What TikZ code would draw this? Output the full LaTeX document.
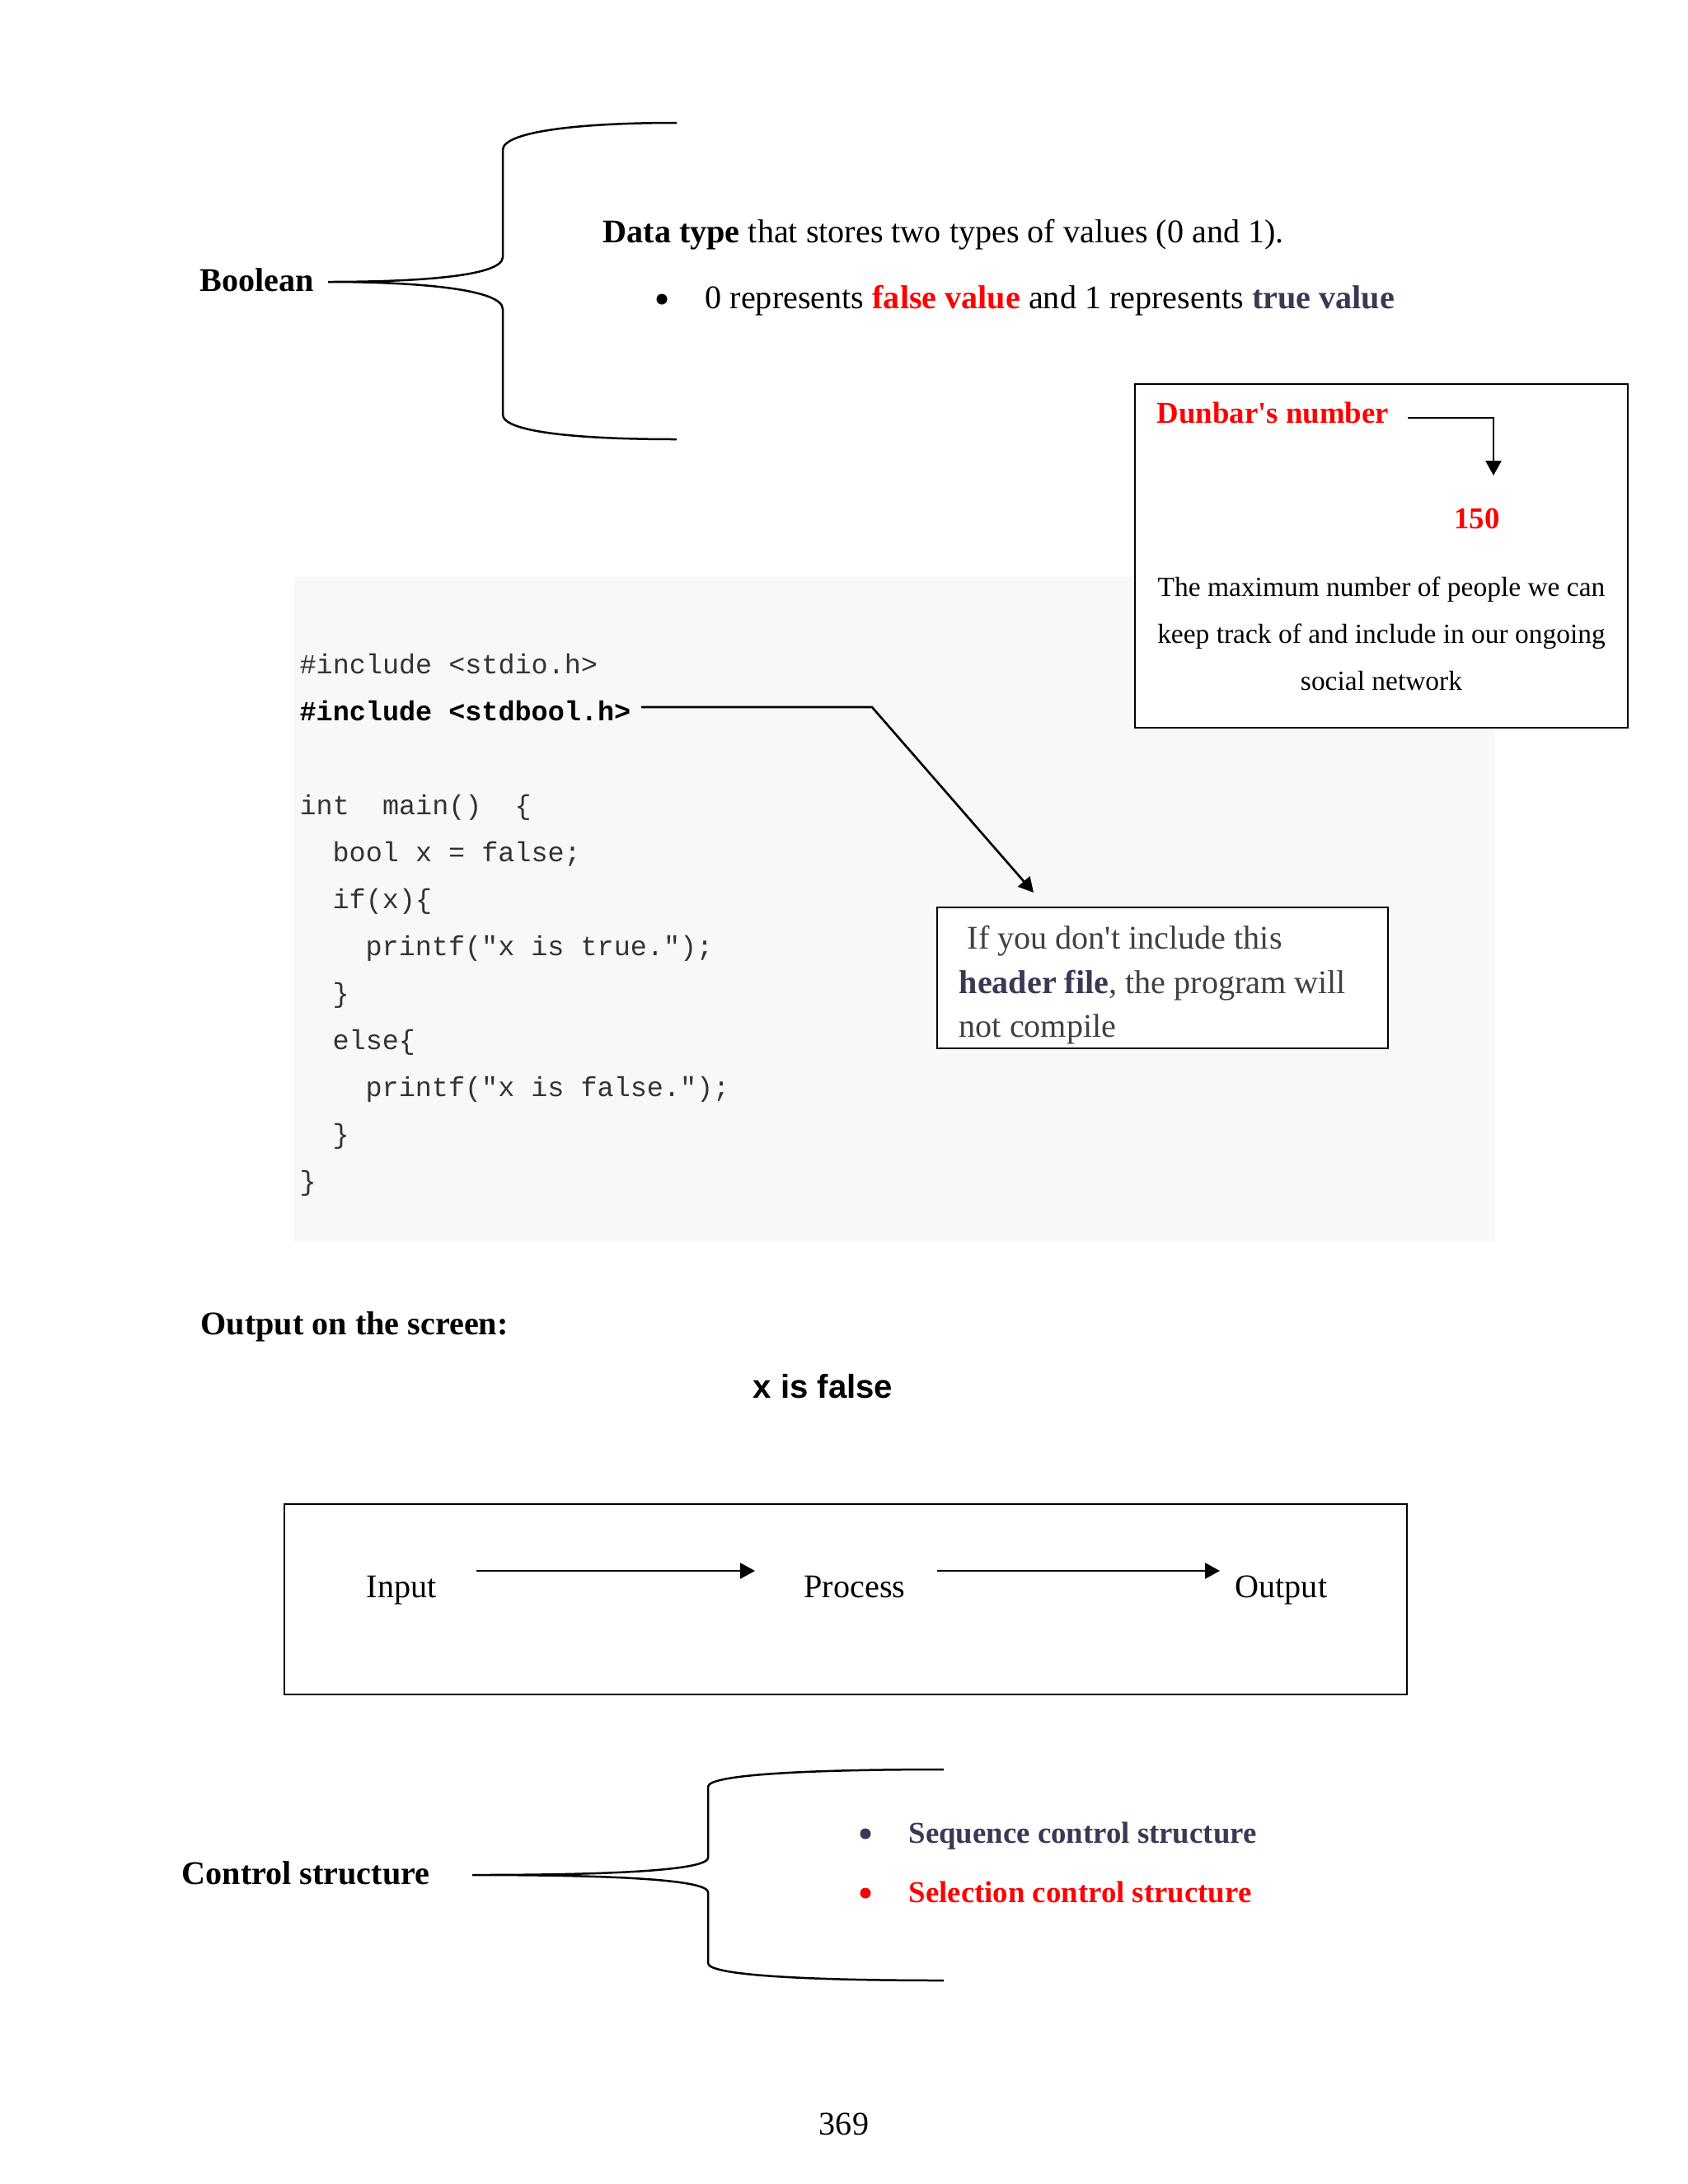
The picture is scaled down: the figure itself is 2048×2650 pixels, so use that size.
\documentclass[tikz,border=0pt]{standalone}
\usepackage{fontspec}
\setmainfont{Liberation Serif}
\setsansfont{Liberation Sans}
\setmonofont{Liberation Mono}
\usetikzlibrary{arrows.meta}

\definecolor{slate}{RGB}{59,56,86}
\definecolor{redtext}{RGB}{255,0,0}
\definecolor{codebg}{RGB}{248,248,248}
\definecolor{codetext}{RGB}{51,51,51}
\definecolor{notegray}{RGB}{64,64,72}

\tikzset{
  txt/.style={inner sep=0pt, anchor=base west, font=\fontsize{12bp}{14bp}\selectfont},
  small/.style={txt, font=\fontsize{10bp}{12bp}\selectfont},
  code/.style={inner sep=0pt, anchor=base west, text=codetext, font=\fontsize{10bp}{12bp}\ttfamily},
  curlyline/.style={line width=0.75pt},
  framebox/.style={draw, line width=0.8pt, fill=white},
  flowarrow/.style={line width=0.8pt, -{Triangle[length=5.4pt,width=5.7pt]}},
  dot/.style={circle, fill, inner sep=0pt, minimum size=3.9pt},
}

\begin{document}
\begin{tikzpicture}[x=0.3pt, y=-0.3pt]
  \fill[white] (0,0) rectangle (2048,2650);
  \useasboundingbox (0,0) rectangle (2048,2650);

  % Boolean
  \node[txt, font=\fontsize{12bp}{14bp}\bfseries] (boolean) at (242,353) {Boolean};
  \coordinate (boolTip) at (398,342);
  \draw[curlyline] (821,149) .. controls (700,149) and (610,160) .. (610,182) -- (610,312)
    .. controls (610,336) and (500,342) .. (boolTip)
    .. controls (500,342) and (610,350) .. (610,375) -- (610,503)
    .. controls (610,524) and (700,533) .. (821,533);
  \node[txt] (datatype) at (731,294) {\textbf{Data type} that stores two types of values (0 and 1).};
  \node[dot] (boolDot) at (803,363) {};
  \node[txt] (values) at (855,374) {0 represents \textcolor{redtext}{\textbf{false value}} and 1 represents \textcolor{slate}{\textbf{true value}}};

  % code listing
  \fill[codebg] (357,700) rectangle (1814,1507);
  \node[code] (incStdio) at (363,817) {\#include <stdio.h>};
  \node[code, font=\fontsize{10bp}{12bp}\ttfamily\bfseries, text=black] (incBool) at (363,874) {\#include <stdbool.h>};
  \node[code] (mainLine) at (363,988) {int~~main()~~\{};
  \node[code] (boolLine) at (403,1045) {bool x = false;};
  \node[code] (ifLine) at (403,1102) {if(x)\{};
  \node[code] (printTrue) at (443,1159) {printf("x is true.");};
  \node[code] (closeIf) at (403,1216) {\}};
  \node[code] (elseLine) at (403,1273) {else\{};
  \node[code] (printFalse) at (443,1330) {printf("x is false.");};
  \node[code] (closeElse) at (403,1387) {\}};
  \node[code] (closeMain) at (363,1444) {\}};

  % Dunbar's number
  \draw[framebox] (1377,466) rectangle (1975,883);
  \node[txt, font=\fontsize{11bp}{13bp}\bfseries, text=redtext] (dunbar) at (1403,513) {Dunbar\textquotesingle s number};
  \coordinate (dunbarStart) at (1708,507);
  \coordinate (dunbarEnd) at (1812,577);
  \draw[flowarrow] (dunbarStart) -| (dunbarEnd);
  \node[txt, anchor=base, font=\fontsize{11bp}{13bp}\bfseries, text=redtext] (num) at (1792,641) {150};
  \node[small, anchor=base] (dunA) at (1676,723) {The maximum number of people we can};
  \node[small, anchor=base] (dunB) at (1676,780) {keep track of and include in our ongoing};
  \node[small, anchor=base] (dunC) at (1676,837) {social network};

  % header file note
  \draw[framebox] (1137,1101) rectangle (1684,1272);
  \node[txt, text=notegray] (hdrA) at (1173,1151) {If you don\textquotesingle t include this};
  \node[txt, text=notegray] (hdrB) at (1163,1205) {\textcolor{slate}{\textbf{header file}}, the program will};
  \node[txt, text=notegray] (hdrC) at (1163,1258) {not compile};
  \coordinate (hdrTurn) at (1058,858);
  \coordinate (hdrTip) at (1254,1083);
  \draw[flowarrow] ([shift={(12,-16)}]incBool.base east) -- (hdrTurn) -- (hdrTip);

  % output
  \node[txt, font=\fontsize{12bp}{14bp}\bfseries] (outTitle) at (243,1619) {Output on the screen:};
  \node[txt, font=\fontsize{12bp}{14bp}\sffamily\bfseries] (outText) at (913,1696) {x is false};

  % input process output
  \draw[line width=0.8pt] (345,1825) rectangle (1707,2056);
  \node[txt] (input) at (444,1938) {Input};
  \node[txt] (process) at (975,1938) {Process};
  \node[txt] (output) at (1498,1938) {Output};
  \draw[flowarrow] ([shift={(48,-32)}]input.base east) -- ([shift={(-59,-32)}]process.base west);
  \draw[flowarrow] ([shift={(38,-32)}]process.base east) -- ([shift={(-18,-32)}]output.base west);

  % control structure
  \node[txt, font=\fontsize{12bp}{14bp}\bfseries] (control) at (220,2286) {Control structure};
  \coordinate (ctrlTip) at (573,2275);
  \draw[curlyline] (1145,2147) .. controls (1000,2147) and (859,2152) .. (859,2168) -- (859,2254)
    .. controls (859,2272) and (700,2275) .. (ctrlTip)
    .. controls (700,2275) and (859,2278) .. (859,2296) -- (859,2382)
    .. controls (859,2398) and (1000,2403) .. (1145,2403);
  \node[dot, fill=slate] (seqDot) at (1050,2225) {};
  \node[txt, font=\fontsize{11bp}{13bp}\bfseries, text=slate] (sequence) at (1102,2236) {Sequence control structure};
  \node[dot, fill=redtext] (selDot) at (1050,2297) {};
  \node[txt, font=\fontsize{11bp}{13bp}\bfseries, text=redtext] (selection) at (1102,2308) {Selection control structure};

  % page number
  \node[txt, anchor=base] (page) at (1024,2590) {369};
\end{tikzpicture}
\end{document}
